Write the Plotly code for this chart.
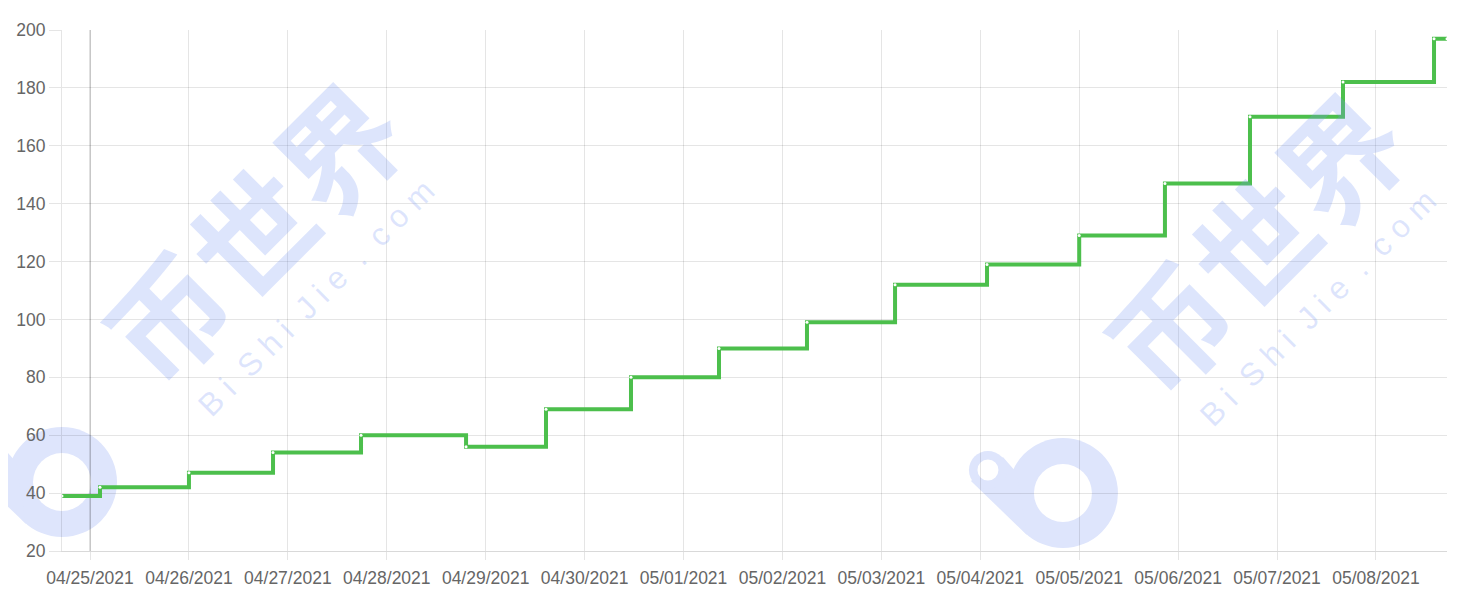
import plotly.graph_objects as go

# ---- data ----
times = [
    "2021-04-24 17:12", "2021-04-25 02:25", "2021-04-26 00:00", "2021-04-26 20:24",
    "2021-04-27 17:45", "2021-04-28 19:14", "2021-04-29 14:38", "2021-04-30 11:15",
    "2021-05-01 08:36", "2021-05-02 05:57", "2021-05-03 03:19", "2021-05-04 01:38",
    "2021-05-05 00:00", "2021-05-05 20:48", "2021-05-06 17:26", "2021-05-07 16:00",
    "2021-05-08 14:05", "2021-05-08 17:14",
]
values = [39, 42, 47, 54, 60, 56, 69, 80, 90, 99, 112, 119, 129, 147, 170, 182, 197, 197]
y_ticks = [20, 40, 60, 80, 100, 120, 140, 160, 180, 200]
highlight_day = "2021-04-25"

GREEN = "#4cbf4c"
GRID = "rgba(0,0,0,0.1)"
WM = "rgb(222,229,252)"
WM_T = "rgba(120,150,245,0.25)"
FONT = "Liberation Sans, Arial, Helvetica, sans-serif"
NB = "\u00a0"

fig = go.Figure()
fig.add_trace(go.Scatter(
    x=times, y=values, mode="lines+markers", line_shape="hv",
    line=dict(color=GREEN, width=4),
    marker=dict(size=3, color="white", line=dict(width=0)),
    showlegend=False, hoverinfo="x+y",
))

shapes = []
annotations = []


def logo(xp, yp):
    base = dict(xref="paper", yref="paper", xanchor=xp, yanchor=yp,
                xsizemode="pixel", ysizemode="pixel", layer="below",
                line=dict(width=0))
    shapes.append(dict(type="circle", x0=-55, x1=55, y0=-55, y1=55,
                       fillcolor=WM, **base))
    shapes.append(dict(type="path",
                       path="M -60 36 L -46 20 L -36 -42 L -92 12 Z",
                       fillcolor=WM, **base))
    shapes.append(dict(type="circle", x0=-75 - 19, x1=-75 + 19, y0=23 - 19, y1=23 + 19,
                       fillcolor=WM, **base))
    shapes.append(dict(type="circle", x0=-29, x1=29, y0=-29, y1=29,
                       fillcolor="white", **base))
    shapes.append(dict(type="circle", x0=-75 - 10.5, x1=-75 + 10.5, y0=23 - 10.5, y1=23 + 10.5,
                       fillcolor="white", **base))


def wm_text(xc, yc, xs, ys):
    annotations.append(dict(text="币世界", xref="paper", yref="paper", x=xc, y=yc,
                            xanchor="center", yanchor="middle",
                            showarrow=False, textangle=-45,
                            font=dict(family="Noto Sans CJK SC", size=120, color=WM_T,
                                      weight="bold")))
    label = (NB * 2).join(NB.join(w) for w in ["Bi", "Shi", "Jie", ".", "com"])
    annotations.append(dict(text=label, xref="paper", yref="paper",
                            x=xs, y=ys, xanchor="center", yanchor="middle",
                            showarrow=False, textangle=-45,
                            font=dict(family=FONT, size=32, color=WM_T)))


logo(0.0, 0.1324)
logo(0.7227, 0.1113)
wm_text(0.1357, 0.616, 0.1834, 0.486)
wm_text(0.8592, 0.597, 0.9069, 0.466)

shapes.append(dict(type="line", xref="x", yref="paper", x0=highlight_day, x1=highlight_day,
                   y0=0, y1=1, line=dict(color="rgba(0,0,0,0.25)", width=1), layer="between"))

fig.update_layout(
    width=1456, height=590,
    margin=dict(l=54, r=17, t=22, b=47, autoexpand=False),
    paper_bgcolor="white", plot_bgcolor="white",
    shapes=shapes, annotations=annotations,
    font=dict(family=FONT, size=17.5, color="#666666"),
)
fig.update_xaxes(
    type="date", range=[times[0], times[-1]], automargin=False,
    tick0="2021-04-25", dtick=86400000, tickformat="%m/%d/%Y",
    showgrid=True, gridcolor=GRID, gridwidth=1,
    ticks="outside", ticklen=8, tickcolor=GRID, ticklabelstandoff=3,
    showline=True, linecolor="rgba(0,0,0,0.15)", linewidth=1,
    zeroline=False, tickfont=dict(size=17.5, color="#666666"),
)
fig.update_yaxes(
    range=[20, 200], tickvals=y_ticks, automargin=False,
    showgrid=True, gridcolor=GRID, gridwidth=1,
    ticks="outside", ticklen=12, tickcolor=GRID,
    showline=True, linecolor=GRID, linewidth=1,
    zeroline=False, tickfont=dict(size=17.5, color="#666666"),
)

fig.write_html("out.html")
